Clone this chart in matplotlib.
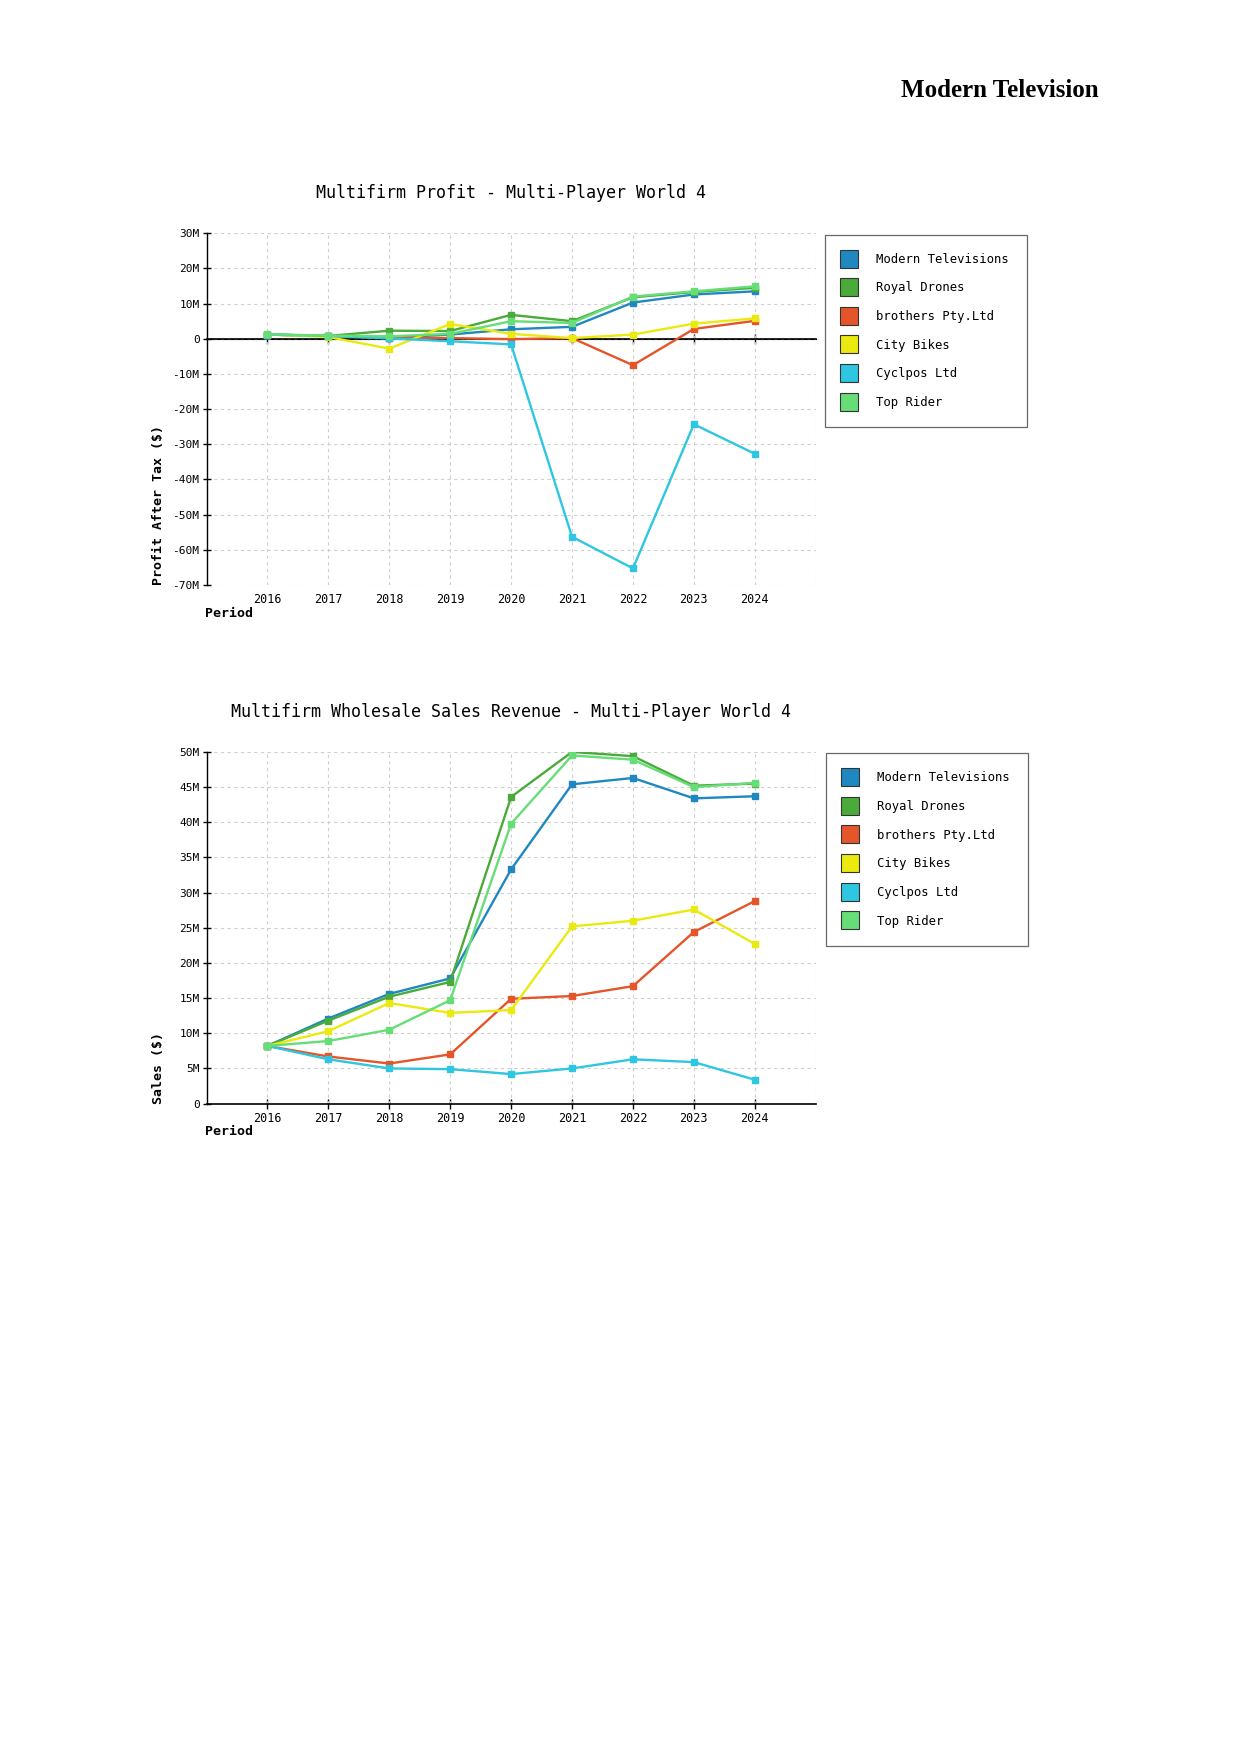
import numpy as np
import matplotlib
matplotlib.use('Agg')
import matplotlib.pyplot as plt
from matplotlib.lines import Line2D

# dati
anni = [2016, 2017, 2018, 2019, 2020, 2021, 2022, 2023, 2024]
aziende = ['Modern Televisions', 'Royal Drones', 'brothers Pty.Ltd',
           'City Bikes', 'Cyclpos Ltd', 'Top Rider']
colori = ['#1f88c0', '#4aaa3a', '#e5552a', '#eaea10', '#2ec6e0', '#66dd77']

# profitto dopo le tasse (milioni di $)
profit_modern = [1.2, 0.8, 0.3, 1.2, 2.7, 3.4, 10.3, 12.6, 13.5]
profit_royal = [1.2, 0.8, 2.3, 2.2, 6.8, 5.0, 11.8, 13.3, 14.5]
profit_brothers = [1.2, 0.8, 0.3, 0.2, -0.1, 0.2, -7.5, 2.8, 5.1]
profit_city = [1.2, 0.5, -2.8, 4.2, 1.4, 0.2, 1.2, 4.3, 5.8]
profit_cyclpos = [1.2, 0.8, 0.1, -0.7, -1.6, -56.3, -65.3, -24.3, -32.7]
profit_toprider = [1.3, 0.9, 0.7, 1.4, 5.0, 4.5, 12.0, 13.5, 14.9]

# vendite all'ingrosso (milioni di $)
sales_modern = [8.2, 12.1, 15.6, 17.8, 33.3, 45.4, 46.3, 43.4, 43.7]
sales_royal = [8.2, 11.8, 15.2, 17.3, 43.6, 50.0, 49.4, 45.2, 45.5]
sales_brothers = [8.2, 6.7, 5.7, 7.0, 14.9, 15.3, 16.7, 24.4, 28.8]
sales_city = [8.2, 10.3, 14.3, 12.9, 13.3, 25.2, 26.0, 27.6, 22.7]
sales_cyclpos = [8.2, 6.3, 5.0, 4.9, 4.2, 5.0, 6.3, 5.9, 3.4]
sales_toprider = [8.2, 8.9, 10.5, 14.7, 39.8, 49.5, 48.9, 45.0, 45.6]

profitti = [profit_modern, profit_royal, profit_brothers, profit_city, profit_cyclpos, profit_toprider]
vendite = [sales_modern, sales_royal, sales_brothers, sales_city, sales_cyclpos, sales_toprider]

mono = 'DejaVu Sans Mono'
fig = plt.figure(figsize=(12.41, 17.54), dpi=100)

fig.text(0.8855, 0.9486, 'Modern Television', ha='right', va='center',
         family='Liberation Serif', weight='bold', fontsize=18)


def grafico(rect, serie, yticks, titolo, ylabel, ytit, leg_rect):
    ax = fig.add_axes(rect)
    ymin, ymax = yticks[0], yticks[-1]
    ax.set_xlim(2015, 2025)
    ax.set_ylim(ymin, ymax)
    ax.grid(True, color='#cfcfcf', linestyle=(0, (3, 3)), linewidth=0.8)
    ax.axvline(2025, color='#cfcfcf', linestyle=(0, (3, 3)), linewidth=0.8)
    ax.set_axisbelow(True)
    for s in ['top', 'right', 'bottom']:
        ax.spines[s].set_visible(False)
    ax.spines['left'].set_linewidth(1.0)
    ax.set_yticks(yticks)
    ax.set_yticklabels(['%dM' % v if v != 0 else '0' for v in yticks],
                       family=mono, fontsize=8)
    ax.tick_params(axis='y', direction='inout', length=6, width=1, pad=2)
    ax.set_xticks(anni)
    ax.set_xticklabels([str(a) for a in anni], family=mono, fontsize=8.5)
    ax.tick_params(axis='x', length=0, pad=6)

    # asse delle x sulla linea dello zero
    pos0 = (0 - ymin) / (ymax - ymin)
    sec = ax.secondary_xaxis(pos0)
    sec.set_xticks(anni)
    sec.set_xticklabels([])
    sec.tick_params(direction='inout', length=7, width=1)
    sec.spines['bottom'].set_visible(False)
    ax.axhline(0, color='black', lw=1.2, zorder=2.5, clip_on=False)

    for i in range(len(aziende)):
        ax.plot(anni, serie[i], color=colori[i], lw=1.7, marker='s', ms=5,
                label=aziende[i], zorder=3)

    fig.text(rect[0] + rect[2] * 0.5, ytit, titolo, ha='center', va='center',
             family=mono, fontsize=12)
    fig.text(0.128, rect[1], ylabel, rotation=90, ha='center', va='bottom',
             family=mono, fontsize=9.5, weight='bold')
    fig.text(0.1655, rect[1] - 0.016, 'Period', ha='left', va='center',
             family=mono, fontsize=9.5, weight='bold')

    handles = [Line2D([], [], ls='', marker='s', ms=13, mfc=c, mec='#333333', mew=0.8)
               for c in colori]
    leg = ax.legend(handles, aziende, loc='upper left', bbox_to_anchor=leg_rect,
                    bbox_transform=fig.transFigure, prop={'family': mono, 'size': 8.8},
                    frameon=True, fancybox=False, edgecolor='#444444',
                    borderpad=1.5, labelspacing=1.28, handletextpad=1.7,
                    handlelength=1.0, borderaxespad=0)
    leg.get_frame().set_linewidth(0.9)
    return ax


grafico([0.1664, 0.6665, 0.4909, 0.2005], profitti,
        [-70, -60, -50, -40, -30, -20, -10, 0, 10, 20, 30],
        'Multifirm Profit - Multi-Player World 4', 'Profit After Tax ($)', 0.890,
        (0.6645, 0.8663))

grafico([0.1664, 0.3708, 0.4909, 0.2005], vendite,
        [0, 5, 10, 15, 20, 25, 30, 35, 40, 45, 50],
        'Multifirm Wholesale Sales Revenue - Multi-Player World 4', 'Sales ($)', 0.5938,
        (0.6655, 0.5707))

plt.savefig('out.png', dpi=100)
